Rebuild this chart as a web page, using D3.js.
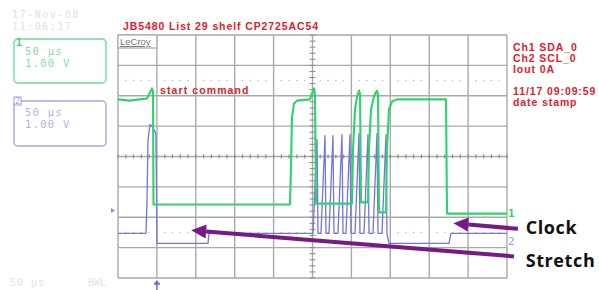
<!DOCTYPE html>
<html>
<head>
<meta charset="utf-8">
<script src="https://cdn.jsdelivr.net/npm/d3@7/dist/d3.min.js"></script>
<style>
body { margin: 0; background: #fff; }
svg { display: block; }
</style>
</head>
<body>
<div id="container"></div>
<script>
const width = 599;
const height = 290;

// time in µs (50 µs/div), level in V (1 V/div)
const greenT = [0, 15, 28, 37, 41, 43.7, 45, 45.6, 221, 222.3, 223.6, 226.2, 230, 246.8, 249.3, 251.9, 253.2, 254.5,
  300.8, 302.1, 304.6, 307.3, 309.9, 311.1, 312.4, 321.3, 322.6, 325.2, 329, 332.9, 334.2, 335.5,
  344.5, 345.7, 348.3, 352.2, 358.6, 421.6, 422.9, 500];
const greenV = [1.88, 1.84, 1.88, 1.91, 2.1, 2.24, 2.14, -1.58, -1.58, -0.43, 1.28, 1.74, 1.84, 1.88, 2.07, 2.24, 2.04, -1.55,
  -1.55, 0.23, 1.55, 1.98, 2.17, 2.04, -1.51, -1.51, 0.23, 1.55, 1.98, 2.17, 2.04, -1.84,
  -1.84, 0.23, 1.55, 1.81, 1.88, 1.88, -1.88, -1.88];

const blueT = [0, 36, 37.3, 38.6, 41.1, 43.7, 47.6, 48.8, 50.1, 115.7, 117, 250.6,
  255.8, 257.1, 260.9, 266.1, 267.3, 271.2, 276.3, 277.6, 282.7, 287.9, 289.2, 293, 298.2, 299.5,
  304.6, 309.8, 311, 316.2, 321.3, 322.6, 327.8, 332.9, 334.2, 339.3, 344.5, 345.7,
  348.3, 425.4, 428, 500];
const blueV = [-2.53, -2.53, -1.42, 0.56, 1.05, 0.99, 0.82, 0.72, -2.86, -2.86, -2.53, -2.53,
  0.56, -2.53, -2.53, 0.69, -2.53, -2.53, 0.69, -2.53, -2.53, 0.72, -2.53, -2.53, 0.72, -2.53,
  -2.53, 0.76, -2.53, -2.53, 0.72, -2.53, -2.53, 0.76, -2.53, -2.53, 0.72, -2.53,
  -2.86, -2.86, -2.53, -2.53];

const titleText = "JB5480 List 29 shelf CP2725AC54";
const infoLines = ["Ch1 SDA_0", "Ch2 SCL_0", "Iout 0A"];
const stampLines = ["11/17 09:09:59", "date stamp"];
const scopeDate = ["17-Nov-08", "11:06:17"];
const ch1Settings = ["50 µs", "1.00 V"];
const ch2Settings = ["50 µs", "1.00 V"];
const cursorLevels = [2.5, -2.5];

// arrows: from (t,v) tail to (t,v) tip
const arrowNames = ["Clock", "Stretch"];
const arrowTail = [[514, -2.38], [509, -3.29]];
const arrowTip = [[431, -2.2], [94, -2.43]];
const labelPos = [[524, -2.34], [524, -3.42]];

const svg = d3.select("div#container")
    .append("svg")
    .attr("width", width)
    .attr("height", height)
    .style("background", "#fff");

const xScale = d3.scaleLinear().domain([0, 500]).range([118, 507]);
const yScale = d3.scaleLinear().domain([-4, 4]).range([278, 35]);

const gridColor = "#a9a9a9";
const red = "#e3202c";
const green = "#2fd26c";
const blue = "#7575dc";
const purple = "#761a86";

// grid
const grid = svg.append("g");
grid.selectAll("line.vx")
    .data(xScale.ticks(10))
    .enter().append("line")
    .attr("x1", d => xScale(d)).attr("x2", d => xScale(d))
    .attr("y1", yScale(4)).attr("y2", yScale(-4))
    .attr("stroke", gridColor).attr("stroke-width", 1.4);
grid.selectAll("line.hy")
    .data(yScale.ticks(8))
    .enter().append("line")
    .attr("x1", xScale(0)).attr("x2", xScale(500))
    .attr("y1", d => yScale(d)).attr("y2", d => yScale(d))
    .attr("stroke", gridColor).attr("stroke-width", 1.4);

// minor ticks on the centre lines
grid.selectAll("line.mx")
    .data(d3.range(0, 501, 10))
    .enter().append("line")
    .attr("x1", d => xScale(d)).attr("x2", d => xScale(d))
    .attr("y1", yScale(0) - 2).attr("y2", yScale(0) + 2)
    .attr("stroke", "#8a8a8a").attr("stroke-width", 1.2);
grid.selectAll("line.my")
    .data(d3.range(-4, 4.01, 0.2))
    .enter().append("line")
    .attr("x1", xScale(250) - 3).attr("x2", xScale(250) + 3)
    .attr("y1", d => yScale(d)).attr("y2", d => yScale(d))
    .attr("stroke", "#8a8a8a").attr("stroke-width", 1);

// dotted cursor levels
cursorLevels.forEach(function(lv) {
    grid.selectAll(null)
        .data(d3.range(10, 500, 10).filter(t => t % 50 !== 0))
        .enter().append("circle")
        .attr("cx", d => xScale(d))
        .attr("cy", yScale(lv))
        .attr("r", 0.8)
        .attr("fill", "#bdbdbd");
});

// LeCroy tag
svg.append("rect")
    .attr("x", xScale(0)).attr("y", yScale(4))
    .attr("width", xScale(50) - xScale(0)).attr("height", 13)
    .attr("fill", "#fff").attr("stroke", gridColor).attr("stroke-width", 1.2);
svg.append("text")
    .attr("x", xScale(0) + 2).attr("y", yScale(4) + 10)
    .attr("font-family", "Liberation Sans, Arial, sans-serif")
    .attr("font-size", 9.5)
    .attr("fill", "#777")
    .attr("text-decoration", "underline")
    .text("LeCroy");

// traces
const line = d3.line()
    .x(d => xScale(d[0]))
    .y(d => yScale(d[1]));

svg.append("path")
    .datum(blueT.map((t, i) => [t, blueV[i]]))
    .attr("d", line)
    .attr("fill", "none")
    .attr("stroke", blue)
    .attr("stroke-width", 1.3)
    .attr("stroke-linejoin", "round");

svg.append("path")
    .datum(greenT.map((t, i) => [t, greenV[i]]))
    .attr("d", line)
    .attr("fill", "none")
    .attr("stroke", green)
    .attr("stroke-width", 2.1)
    .attr("stroke-linejoin", "round");

// trace end markers
svg.append("text")
    .attr("x", xScale(500) + 1).attr("y", yScale(greenV[greenV.length - 1]) + 3)
    .attr("font-family", "DejaVu Sans Mono, monospace")
    .attr("font-size", 11).attr("font-weight", "bold")
    .attr("fill", green).text("1");
svg.append("text")
    .attr("x", xScale(500) + 1).attr("y", yScale(blueV[blueV.length - 1]) + 12)
    .attr("font-family", "DejaVu Sans Mono, monospace")
    .attr("font-size", 11)
    .attr("fill", "#9a9ae6").text("2");

// offset marker and trigger marker
const gy = yScale(-1.78);
svg.append("path")
    .attr("d", "M" + (xScale(0) - 7) + "," + (gy - 2.5) + "L" + (xScale(0) - 3) + "," + gy + "L" + (xScale(0) - 7) + "," + (gy + 2.5) + "Z")
    .attr("fill", "#8f8fe0");
const tx = xScale(50);
svg.append("path")
    .attr("d", "M" + tx + "," + (yScale(-4) + 2) + "L" + (tx - 3) + "," + (yScale(-4) + 6) + "L" + (tx + 3) + "," + (yScale(-4) + 6) + "Z")
    .attr("fill", "#6d6dd8");
svg.append("line")
    .attr("x1", tx).attr("x2", tx)
    .attr("y1", yScale(-4) + 4).attr("y2", height)
    .attr("stroke", "#6d6dd8").attr("stroke-width", 1.5);
svg.append("line")
    .attr("x1", tx - 3).attr("x2", tx + 3)
    .attr("y1", yScale(-4) + 6).attr("y2", yScale(-4) + 6)
    .attr("stroke", "#6d6dd8").attr("stroke-width", 1.5);

// red labels
const redFont = "Liberation Sans, Arial, sans-serif";
svg.append("text")
    .attr("x", 123).attr("y", 30)
    .attr("font-family", redFont).attr("font-weight", "bold")
    .attr("font-size", 10.5).attr("letter-spacing", 0.9)
    .attr("fill", red).text(titleText);
svg.append("text")
    .attr("x", xScale(54)).attr("y", yScale(2.2) + 4)
    .attr("font-family", redFont).attr("font-weight", "bold")
    .attr("font-size", 10.5).attr("letter-spacing", 1.1)
    .attr("fill", red).text("start command");
svg.selectAll("text.info")
    .data(infoLines)
    .enter().append("text")
    .attr("x", 513).attr("y", (d, i) => 51 + i * 11)
    .attr("font-family", redFont).attr("font-weight", "bold")
    .attr("font-size", 10.5).attr("letter-spacing", 0.9)
    .attr("fill", red).text(d => d);
svg.selectAll("text.stamp")
    .data(stampLines)
    .enter().append("text")
    .attr("x", 513).attr("y", (d, i) => 95 + i * 11)
    .attr("font-family", redFont).attr("font-weight", "bold")
    .attr("font-size", 10.5).attr("letter-spacing", 0.9)
    .attr("fill", red).text(d => d);

// scope side panel
const monoFont = "DejaVu Sans Mono, monospace";
svg.selectAll("text.date")
    .data(scopeDate)
    .enter().append("text")
    .attr("x", 12).attr("y", (d, i) => 18 + i * 11.5)
    .attr("font-family", monoFont).attr("font-size", 10.5)
    .attr("letter-spacing", 1.2)
    .attr("fill", "#e2e2e2").text(d => d);

svg.append("rect")
    .attr("x", 14).attr("y", 39).attr("width", 92).attr("height", 44).attr("rx", 4)
    .attr("fill", "none").attr("stroke", "#8fe3b3").attr("stroke-width", 1.8);
svg.append("text")
    .attr("x", 16).attr("y", 46)
    .attr("font-family", monoFont).attr("font-size", 10).attr("font-weight", "bold")
    .attr("fill", "#3fd27a").text("1");
svg.selectAll("text.c1")
    .data(ch1Settings)
    .enter().append("text")
    .attr("x", 25).attr("y", (d, i) => 55 + i * 12)
    .attr("font-family", monoFont).attr("font-size", 10.5)
    .attr("letter-spacing", 1.3)
    .attr("fill", "#86dca8").text(d => d);

svg.append("rect")
    .attr("x", 14).attr("y", 101).attr("width", 92).attr("height", 45).attr("rx", 4)
    .attr("fill", "none").attr("stroke", "#babaeb").attr("stroke-width", 1.8);
svg.append("rect")
    .attr("x", 14).attr("y", 97).attr("width", 7).attr("height", 8)
    .attr("fill", "#fff").attr("stroke", "#9d9de6").attr("stroke-width", 1);
svg.append("text")
    .attr("x", 15).attr("y", 104)
    .attr("font-family", monoFont).attr("font-size", 8)
    .attr("fill", "#9d9de6").text("2");
svg.selectAll("text.c2")
    .data(ch2Settings)
    .enter().append("text")
    .attr("x", 25).attr("y", (d, i) => 116 + i * 12)
    .attr("font-family", monoFont).attr("font-size", 10.5)
    .attr("letter-spacing", 1.3)
    .attr("fill", "#b2b2ea").text(d => d);

svg.append("text")
    .attr("x", 10).attr("y", 286)
    .attr("font-family", monoFont).attr("font-size", 10)
    .attr("letter-spacing", 1)
    .attr("fill", "#e4e4e4").text("50 µs");
svg.append("text")
    .attr("x", 88).attr("y", 286)
    .attr("font-family", monoFont).attr("font-size", 10)
    .attr("fill", "#e4e4e4").text("BWL");

// annotation arrows
arrowNames.forEach(function(name, i) {
    const x0 = xScale(arrowTail[i][0]), y0 = yScale(arrowTail[i][1]);
    const x1 = xScale(arrowTip[i][0]), y1 = yScale(arrowTip[i][1]);
    const ang = Math.atan2(y1 - y0, x1 - x0);
    const headLen = 15, headW = 7;
    const bx = x1 - headLen * Math.cos(ang), by = y1 - headLen * Math.sin(ang);
    svg.append("line")
        .attr("x1", x0).attr("y1", y0).attr("x2", bx).attr("y2", by)
        .attr("stroke", purple).attr("stroke-width", 4);
    svg.append("path")
        .attr("d", "M" + x1 + "," + y1
            + "L" + (bx + headW * Math.sin(ang)) + "," + (by - headW * Math.cos(ang))
            + "L" + (bx - headW * Math.sin(ang)) + "," + (by + headW * Math.cos(ang)) + "Z")
        .attr("fill", purple);
    svg.append("text")
        .attr("x", xScale(labelPos[i][0])).attr("y", yScale(labelPos[i][1]))
        .attr("dy", "0.35em")
        .attr("font-family", "Open Sans, sans-serif").attr("font-weight", "bold")
        .attr("font-size", 18).attr("letter-spacing", 0.6)
        .attr("fill", "#111").text(name);
});
</script>
</body>
</html>
